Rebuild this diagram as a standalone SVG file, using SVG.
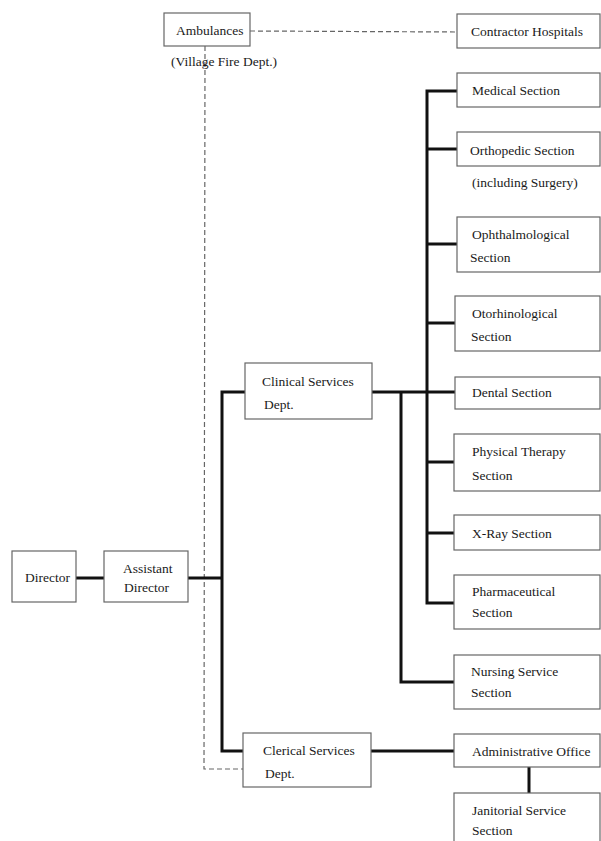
<svg xmlns="http://www.w3.org/2000/svg" width="601" height="841" viewBox="0 0 601 841">
<style>
.box{fill:#fff;stroke:#666;stroke-width:1.2}
.t{font-family:"Liberation Serif","Times New Roman",serif;font-size:13.5px;fill:#1a1a1a}
.solid{fill:none;stroke:#111;stroke-width:3}
.dash{fill:none;stroke:#666;stroke-width:1.2;stroke-dasharray:5,3}
</style>
<rect width="601" height="841" fill="#fff"/>
<g id="connectors">
<line class="dash" x1="250" y1="31" x2="457" y2="32"/>
<polyline class="dash" points="205,46 204,769 243,769"/>
<line class="solid" x1="76" y1="578" x2="104" y2="578"/>
<line class="solid" x1="188" y1="578" x2="222" y2="578"/>
<polyline class="solid" points="245,392 222,392 222,751 243,751"/>
<line class="solid" x1="372" y1="392" x2="456" y2="392"/>
<polyline class="solid" points="457,91 427,91 427,603 456,603"/>
<line class="solid" x1="427" y1="149" x2="457" y2="149"/>
<line class="solid" x1="427" y1="244" x2="457" y2="244"/>
<line class="solid" x1="427" y1="323" x2="456" y2="323"/>
<line class="solid" x1="427" y1="462" x2="455" y2="462"/>
<line class="solid" x1="427" y1="533" x2="455" y2="533"/>
<polyline class="solid" points="401,392 401,682 455,682"/>
<line class="solid" x1="371" y1="751" x2="455" y2="751"/>
<line class="solid" x1="529" y1="767" x2="529" y2="793"/>
</g>
<g id="ambulances"><rect class="box" x="164" y="13" width="86" height="33"/><text class="t" x="176" y="35">Ambulances</text></g>
<text class="t" x="171" y="66">(Village Fire Dept.)</text>
<g id="contractor"><rect class="box" x="457" y="14" width="143" height="34"/><text class="t" x="471" y="36">Contractor Hospitals</text></g>
<g id="medical"><rect class="box" x="457" y="73" width="143" height="34"/><text class="t" x="472" y="95">Medical Section</text></g>
<g id="orthopedic"><rect class="box" x="457" y="132" width="143" height="34"/><text class="t" x="470" y="155">Orthopedic Section</text></g>
<text class="t" x="472" y="187">(including Surgery)</text>
<g id="ophthalmological"><rect class="box" x="457" y="217" width="143" height="55"/><text class="t" x="472" y="239">Ophthalmological</text><text class="t" x="470" y="262">Section</text></g>
<g id="otorhinological"><rect class="box" x="455" y="296" width="145" height="55"/><text class="t" x="472" y="318">Otorhinological</text><text class="t" x="471" y="341">Section</text></g>
<g id="dental"><rect class="box" x="455" y="377" width="145" height="32"/><text class="t" x="472" y="397">Dental Section</text></g>
<g id="physical"><rect class="box" x="454" y="434" width="146" height="57"/><text class="t" x="472" y="456">Physical Therapy</text><text class="t" x="472" y="480">Section</text></g>
<g id="xray"><rect class="box" x="454" y="515" width="146" height="35"/><text class="t" x="472" y="538">X-Ray Section</text></g>
<g id="pharmaceutical"><rect class="box" x="454" y="575" width="146" height="54"/><text class="t" x="472" y="596">Pharmaceutical</text><text class="t" x="472" y="617">Section</text></g>
<g id="nursing"><rect class="box" x="454" y="655" width="146" height="54"/><text class="t" x="471" y="676">Nursing Service</text><text class="t" x="471" y="697">Section</text></g>
<g id="administrative"><rect class="box" x="454" y="734" width="146" height="33"/><text class="t" x="472" y="756">Administrative  Office</text></g>
<g id="janitorial"><rect class="box" x="454" y="793" width="146" height="52"/><text class="t" x="472" y="815">Janitorial Service</text><text class="t" x="472" y="835">Section</text></g>
<g id="clinical"><rect class="box" x="245" y="363" width="127" height="56"/><text class="t" x="262" y="386">Clinical Services</text><text class="t" x="264" y="409">Dept.</text></g>
<g id="clerical"><rect class="box" x="243" y="733" width="128" height="54"/><text class="t" x="263" y="755">Clerical Services</text><text class="t" x="265" y="778">Dept.</text></g>
<g id="director"><rect class="box" x="12" y="551" width="64" height="51"/><text class="t" x="25" y="582">Director</text></g>
<g id="assistant"><rect class="box" x="104" y="551" width="84" height="51"/><text class="t" x="123" y="573">Assistant</text><text class="t" x="124" y="592">Director</text></g>
</svg>
